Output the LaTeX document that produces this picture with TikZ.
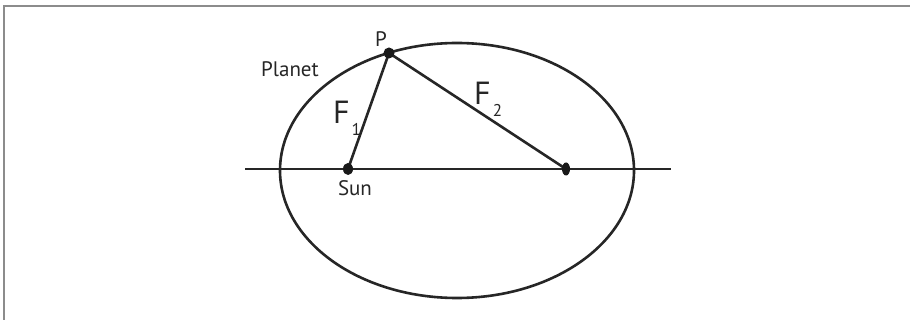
\documentclass[tikz,border=0pt]{standalone}
\usepackage{fontspec}
\setmainfont{PT Sans}
\begin{document}
\begin{tikzpicture}[x=1pt,y=-1pt,
  curve/.style={line width=2.6pt,draw=black!85},
  lbl/.style={inner sep=0pt,anchor=base,font=\fontsize{21}{21}\selectfont,text=black!85},
  flbl/.style={inner sep=0pt,anchor=base west,font=\fontsize{32}{32}\selectfont,text=black!85}]
\useasboundingbox (0,0) rectangle (910,320);
\fill[white] (0,0) rectangle (910,320);
\draw[gray!90,line width=2pt] (4,320) -- (4,6) -- (910,6);
\coordinate (sun) at (348,169);
\coordinate (f2) at (566,169);
\coordinate (p) at (389,53);
\coordinate (axl) at (245,169);
\coordinate (axr) at (671,169);
\draw[curve] (457,170.5) ellipse [x radius=177, y radius=127.5];
\draw[curve] (axl) -- (axr);
\draw[curve] (sun) -- (p) -- (f2);
\fill[black!90] (sun) ellipse [x radius=5, y radius=6];
\fill[black!90] (f2) ellipse [x radius=4, y radius=6.5];
\fill[black!90] (p) ellipse [x radius=5.5, y radius=5.5];
\node[lbl] (plbl) at (381,47) {P};
\node[lbl] (planet) at (290,77) {Planet};
\node[lbl] (sunlbl) at (355,196) {Sun};
\node[flbl] (f1lbl) at (333,124) {F\kern2pt\raisebox{-12pt}{\fontsize{17}{17}\selectfont 1}};
\node[flbl] (f2lbl) at (474,105) {F\kern2pt\raisebox{-12pt}{\fontsize{17}{17}\selectfont 2}};
\end{tikzpicture}
\end{document}
